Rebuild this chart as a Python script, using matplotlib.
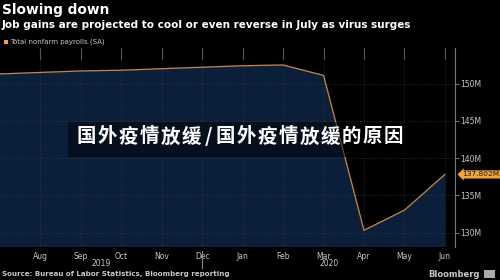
import numpy as np
import matplotlib.pyplot as plt
from matplotlib.patches import Rectangle

# --- data (millions), Jul 2019 .. Jun 2020 ---
months = ['Jul', 'Aug', 'Sep', 'Oct', 'Nov', 'Dec', 'Jan', 'Feb', 'Mar', 'Apr', 'May', 'Jun']
payrolls = [151.3, 151.5, 151.7, 151.8, 152.0, 152.2, 152.4, 152.5, 151.1, 130.3, 133.0, 137.802]
year_labels = ['2019', '2020']
year_pos = [2.5, 8.15]
y_ticks = [130, 135, 140, 145, 150]
caption_a = '国外疫情放缓'
caption_b = '国外疫情放缓的原因'

BG = '#000000'
FILL = '#0b1f3b'
LINE = '#c8843c'
ORANGE = '#f0a43a'
GRID = '#3a3a3a'
TXT = '#c8c8c8'
CJK = ['Noto Sans CJK SC', 'DejaVu Sans']

fig = plt.figure(figsize=(5, 2.8), dpi=100, facecolor=BG)
ax = fig.add_axes([0.0, 0.119, 0.91, 0.71], facecolor=BG)

x = np.arange(len(months))
ax.fill_between(x, 0, payrolls, color=FILL, zorder=1)
ax.plot(x, payrolls, color=LINE, lw=0.9, zorder=3)

ax.set_xlim(0, 11.25)
ax.set_ylim(128.1, 154.8)

# --- grid / ticks ---
ax.set_xticks(x[1:])
ax.set_xticklabels(months[1:])
ax.set_yticks(y_ticks)
ax.set_yticklabels([f'{v}M' for v in y_ticks])
ax.grid(True, color=GRID, lw=0.5, ls=(0, (1, 1.5)), zorder=2)

ax.yaxis.tick_right()
ax.tick_params(axis='y', colors='#888888', labelcolor=TXT, labelsize=5.5, length=3, width=0.6, pad=1)
ax.tick_params(axis='x', colors='#888888', labelcolor=TXT, labelsize=5.5, length=0, pad=3.5)
for side in ['left', 'top', 'bottom']:
    ax.spines[side].set_visible(False)
ax.spines['right'].set_color('#777777')
ax.spines['right'].set_linewidth(0.8)
ax.axhline(128.1, color='#777777', lw=0.8, zorder=4)

# short marks along the top edge
for xi in x[1:]:
    ax.plot([xi, xi], [153.3, 154.8], color='#555555', lw=0.8, zorder=4, clip_on=False)

# year labels under the month ticks
for lab, xp in zip(year_labels, year_pos):
    ax.text(xp, -0.085, lab, transform=ax.get_xaxis_transform(), ha='center', va='center',
            color=TXT, fontsize=5.5)
ax.plot([5, 5], [-0.02, -0.107], transform=ax.get_xaxis_transform(), color='#888888', lw=0.8,
        clip_on=False)

# last value tag
last = payrolls[-1]
ax.annotate(f'{last:.3f}M', xy=(11.25, last), xycoords='data', xytext=(5, 0),
            textcoords='offset points', ha='left', va='center', fontsize=5.3, color='#1a1a1a',
            bbox=dict(boxstyle='larrow,pad=0.15', fc=ORANGE, ec='none'), annotation_clip=False)

# --- titles ---
fig.text(0.004, 0.964, 'Slowing down', color='white', fontsize=9.9, fontweight='bold', va='center')
fig.text(0.004, 0.91, 'Job gains are projected to cool or even reverse in July as virus surges',
         color='white', fontsize=7.5, fontweight='bold', va='center')
fig.patches.append(Rectangle((0.008, 0.843), 0.007, 0.014, transform=fig.transFigure,
                             fc=ORANGE, ec='none'))
fig.text(0.02, 0.85, 'Total nonfarm payrolls (SA)', color=TXT, fontsize=5.0, va='center')

fig.text(0.004, 0.021, 'Source: Bureau of Labor Statistics, Bloomberg reporting', color=TXT,
         fontsize=5.1, fontweight='bold', va='center')
fig.text(0.96, 0.021, 'Bloomberg', color=TXT, fontsize=6.0, fontweight='bold', va='center',
         ha='right')
fig.patches.append(Rectangle((0.968, 0.008), 0.022, 0.028, transform=fig.transFigure,
                             fc='#aaaaaa', ec='none'))

# --- overlay caption (letter-spaced) ---
fig.patches.append(Rectangle((0.136, 0.439), 0.705, 0.125, transform=fig.transFigure,
                             fc='#000000', alpha=0.5, ec='none', zorder=5))
pitch = 21 / 500
cy = 0.511
for k, ch in enumerate(caption_a):
    fig.text(86.5 / 500 + k * pitch, cy, ch, color='white', fontsize=14, fontweight='heavy',
             ha='center', va='center', family=CJK, zorder=6)
fig.text(208 / 500, cy, '/', color='white', fontsize=14, fontweight='heavy',
         ha='center', va='center', family=CJK, zorder=6)
for k, ch in enumerate(caption_b):
    fig.text(225.5 / 500 + k * pitch, cy, ch, color='white', fontsize=14, fontweight='heavy',
             ha='center', va='center', family=CJK, zorder=6)

fig.savefig('out.png', dpi=100, facecolor=BG)
